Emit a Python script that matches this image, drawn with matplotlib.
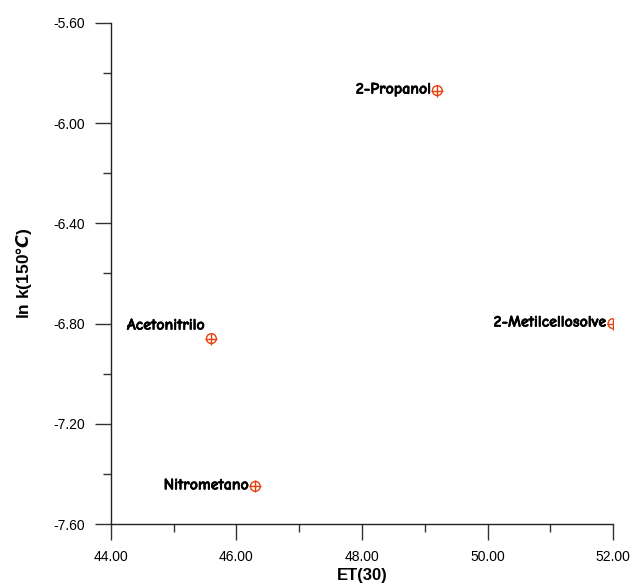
import matplotlib.pyplot as plt
import matplotlib.patheffects as pe
from matplotlib.ticker import MultipleLocator, FormatStrFormatter

plt.rcParams['font.family'] = ['Liberation Sans', 'DejaVu Sans']

solventes = ['2-Propanol', '2-Metilcellosolve', 'Acetonitrilo', 'Nitrometano']
et30 = [49.2, 52.0, 45.6, 46.3]
lnk = [-5.87, -6.80, -6.86, -7.45]
# desplazamiento de cada etiqueta (pixels)
offs = [(-6, 1), (-6, 1), (-6, 13), (-6, 1)]

col = '#e8400c'

fig = plt.figure(figsize=(6.32, 5.86), dpi=100)
ax = fig.add_axes([0.1756, 0.1058, 0.7944, 0.855])

ax.scatter(et30, lnk, s=50, facecolors='none', edgecolors=col, linewidths=1.0, zorder=3)
ax.scatter(et30, lnk, s=75, marker='+', color=col, linewidths=1.0, zorder=3)

for nombre, x, y, o in zip(solventes, et30, lnk, offs):
    ax.annotate(nombre, (x, y), xytext=o, textcoords='offset pixels',
                ha='right', va='center', fontsize=11.5, fontweight='bold',
                family=['Comic Neue', 'DejaVu Sans'],
                path_effects=[pe.withStroke(linewidth=0.45, foreground='black')])

ax.set_xlim(44, 52)
ax.set_ylim(-7.6, -5.6)
ax.xaxis.set_major_locator(MultipleLocator(2))
ax.xaxis.set_minor_locator(MultipleLocator(1))
ax.yaxis.set_major_locator(MultipleLocator(0.4))
ax.yaxis.set_minor_locator(MultipleLocator(0.2))
ax.xaxis.set_major_formatter(FormatStrFormatter('%.2f'))
ax.yaxis.set_major_formatter(FormatStrFormatter('%.2f'))

for s in ['top', 'right']:
    ax.spines[s].set_visible(False)
for s in ['left', 'bottom']:
    ax.spines[s].set_linewidth(1.0)
    ax.spines[s].set_color('#222222')

ax.tick_params(which='major', direction='out', length=11.5, width=1.0, color='#333333',
               labelsize=10, pad=7)
ax.tick_params(which='minor', direction='out', length=6, width=1.0, color='#333333')

ax.set_xlabel('ET(30)', fontsize=12, fontweight='bold', labelpad=3)
ax.set_ylabel(r'ln k(150°$\mathbfit{C}$)', fontsize=12.5, fontweight='bold', labelpad=14)

fig.savefig('out.png', dpi=100)
